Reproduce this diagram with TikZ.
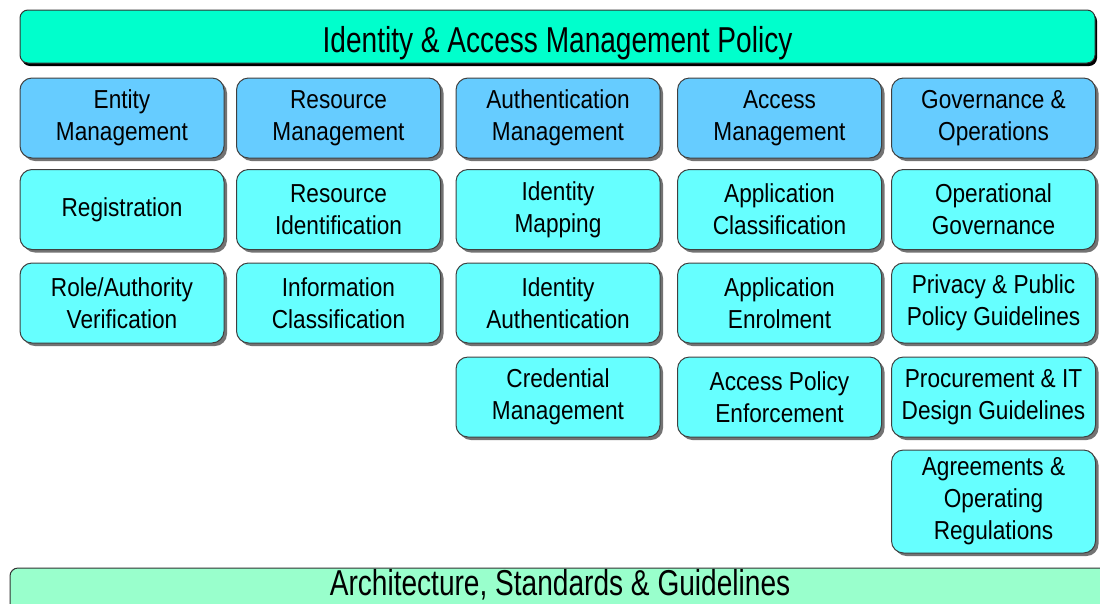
\documentclass[tikz,border=0pt]{standalone}
\usepackage{fontspec}
\setmainfont{Liberation Sans}
\newfontfamily\boxfont[FakeStretch=0.87]{Liberation Sans}
\newfontfamily\barfont[FakeStretch=0.78]{Liberation Sans}
\usetikzlibrary{shadows}

\definecolor{policygreen}{RGB}{0,255,204}
\definecolor{headblue}{RGB}{102,204,255}
\definecolor{itemcyan}{RGB}{102,255,255}
\definecolor{archgreen}{RGB}{153,255,204}

\begin{document}
\begin{tikzpicture}[x=1pt, y=-1pt,
        box/.style={draw=black!75, line width=1pt, rounded corners=12pt,
            align=center, inner sep=0pt, minimum width=204pt, minimum height=80pt,
            font=\boxfont\fontsize{26}{32}\selectfont,
            drop shadow={shadow xshift=3pt, shadow yshift=-3pt, fill=black!55, opacity=1}},
        head/.style={box, fill=headblue},
        item/.style={box, fill=itemcyan},
        bar/.style={draw=black!80, line width=1pt, rounded corners=8pt,
            inner sep=0pt, text depth=0pt, font=\barfont\fontsize{36}{40}\selectfont,
            drop shadow={shadow xshift=2pt, shadow yshift=-3pt, fill=black, opacity=1}}]
        \useasboundingbox (0,0) rectangle (1100,603);
        \clip (0,0) rectangle (1100,603);
        % top and bottom bars
        \node [bar, fill=policygreen, minimum width=1075pt, minimum height=53pt, text height=31pt] (policy) at (557.5, 36.5) {Identity \& Access Management Policy};
        \node [bar, fill=archgreen, minimum width=1100pt, minimum height=48pt, text height=7pt] (arch) at (560, 592) {Architecture, Standards \& Guidelines};
        % column 1
        \node [head] (entity) at (122, 118) {Entity\\Management};
        \node [item] (registration) at (122, 209.5) {Registration};
        \node [item] (roleauth) at (122, 303) {Role/Authority\\Verification};
        % column 2
        \node [head] (resource) at (338.5, 118) {Resource\\Management};
        \node [item] (resid) at (338.5, 209.5) {Resource\\Identification};
        \node [item] (infoclass) at (338.5, 303) {Information\\Classification};
        % column 3
        \node [head] (authmgmt) at (558, 118) {Authentication\\Management};
        \node [item] (idmap) at (558, 209.5) {Identity\\Mapping};
        \node [item] (idauth) at (558, 303) {Identity\\Authentication};
        \node [item] (credmgmt) at (558, 397) {Credential\\Management};
        % column 4
        \node [head] (accessmgmt) at (779.5, 118) {Access\\Management};
        \node [item] (appclass) at (779.5, 209.5) {Application\\Classification};
        \node [item] (appenrol) at (779.5, 303) {Application\\Enrolment};
        \node [item] (policyenf) at (779.5, 397) {Access Policy\\Enforcement};
        % column 5
        \node [head] (govops) at (993.5, 118) {Governance \&\\Operations};
        \node [item] (opgov) at (993.5, 209.5) {Operational\\Governance};
        \node [item] (privacy) at (993.5, 303) {Privacy \& Public\\Policy Guidelines};
        \node [item] (procure) at (993.5, 397) {Procurement \& IT\\Design Guidelines};
        \node [item, minimum height=103pt] (agree) at (993.5, 501.5) {Agreements \&\\Operating\\Regulations};
    \end{tikzpicture}
\end{document}
